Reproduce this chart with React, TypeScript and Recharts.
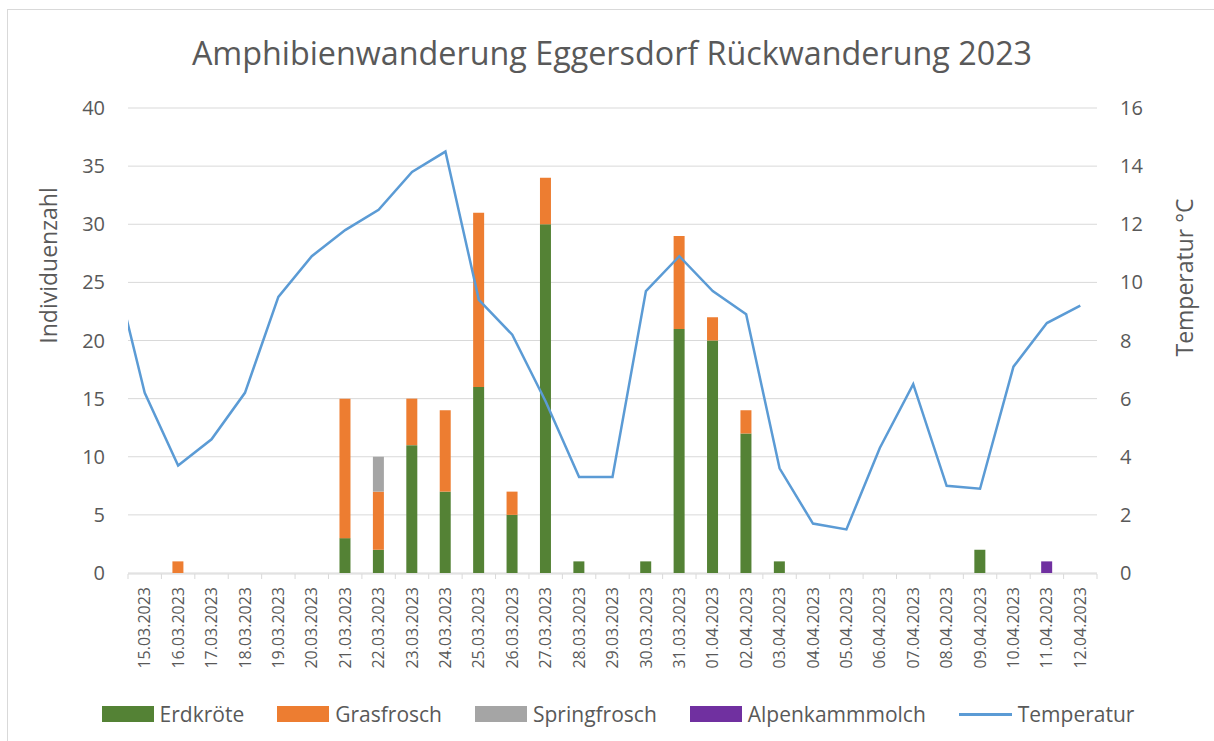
import React from 'react';
import { ComposedChart, Bar, Line, XAxis, YAxis, CartesianGrid, Legend } from 'recharts';

const dates = [
  '15.03.2023', '16.03.2023', '17.03.2023', '18.03.2023', '19.03.2023', '20.03.2023',
  '21.03.2023', '22.03.2023', '23.03.2023', '24.03.2023', '25.03.2023', '26.03.2023',
  '27.03.2023', '28.03.2023', '29.03.2023', '30.03.2023', '31.03.2023', '01.04.2023',
  '02.04.2023', '03.04.2023', '04.04.2023', '05.04.2023', '06.04.2023', '07.04.2023',
  '08.04.2023', '09.04.2023', '10.04.2023', '11.04.2023', '12.04.2023',
];

const erdkroete = [0, 0, 0, 0, 0, 0, 3, 2, 11, 7, 16, 5, 30, 1, 0, 1, 21, 20, 12, 1, 0, 0, 0, 0, 0, 2, 0, 0, 0];
const grasfrosch = [0, 1, 0, 0, 0, 0, 12, 5, 4, 7, 15, 2, 4, 0, 0, 0, 8, 2, 2, 0, 0, 0, 0, 0, 0, 0, 0, 0, 0];
const springfrosch = [0, 0, 0, 0, 0, 0, 0, 3, 0, 0, 0, 0, 0, 0, 0, 0, 0, 0, 0, 0, 0, 0, 0, 0, 0, 0, 0, 0, 0];
const alpenkammmolch = [0, 0, 0, 0, 0, 0, 0, 0, 0, 0, 0, 0, 0, 0, 0, 0, 0, 0, 0, 0, 0, 0, 0, 0, 0, 0, 0, 1, 0];

// Temperature series starts one day before the first visible category (clipped at the plot edge)
const temperatureDates = ['14.03.2023', ...dates];
const temperature = [
  10.9, 6.2, 3.7, 4.6, 6.2, 9.5, 10.9, 11.8, 12.5, 13.8, 14.5, 9.4, 8.2, 5.9, 3.3,
  3.3, 9.7, 10.9, 9.7, 8.9, 3.6, 1.7, 1.5, 4.3, 6.5, 3.0, 2.9, 7.1, 8.6, 9.2,
];

const leftTicks = [0, 5, 10, 15, 20, 25, 30, 35, 40];
const rightTicks = [0, 2, 4, 6, 8, 10, 12, 14, 16];

const seriesNames = ['Erdkröte', 'Grasfrosch', 'Springfrosch', 'Alpenkammmolch', 'Temperatur'];
const seriesColors = ['#548235', '#ED7D31', '#A5A5A5', '#7030A0', '#5B9BD5'];

const title = 'Amphibienwanderung Eggersdorf Rückwanderung 2023';
const leftTitle = 'Individuenzahl';
const rightTitle = 'Temperatur °C';

const barData = dates.map((d, i) => ({
  date: d,
  erdkroete: erdkroete[i],
  grasfrosch: grasfrosch[i],
  springfrosch: springfrosch[i],
  alpenkammmolch: alpenkammmolch[i],
}));

const lineData = temperatureDates.map((d, i) => ({ date: d, pos: i - 1, temp: temperature[i] }));
const boundaryTicks = Array.from({ length: dates.length + 1 }, (_, i) => i - 0.5);

const TEXT = '#595959';
const GRID = '#D9D9D9';

const DateTick = (props: any) => {
  const { x, y, payload } = props;
  return (
    <g transform={`translate(${x},${y})`}>
      <text x={-14} y={0} dy="0.35em" textAnchor="end" transform="rotate(-90)" fill={TEXT} fontSize={16}>
        {payload.value}
      </text>
    </g>
  );
};

const EmptyTick = () => <g />;

const LegendContent = () => (
  <div style={{ display: 'flex', justifyContent: 'center', alignItems: 'center', gap: 33, height: 30, fontSize: 21, color: TEXT, whiteSpace: 'nowrap' }}>
    {seriesNames.map((n, i) => (
      <div key={n} style={{ display: 'flex', alignItems: 'center' }}>
        {i < 4 ? (
          <div style={{ width: 52, height: 16, background: seriesColors[i] }} />
        ) : (
          <div style={{ width: 53, height: 3, background: seriesColors[i] }} />
        )}
        <span style={{ marginLeft: 6 }}>{n}</span>
      </div>
    ))}
  </div>
);

export default function App() {
  return (
    <div style={{ position: 'fixed', left: 0, top: 0, width: 1214, height: 741, overflow: 'hidden', background: '#fff', fontFamily: '"Open Sans", sans-serif' }}>
      <div style={{ position: 'absolute', left: 7, top: 9, width: 1240, height: 780, border: `1px solid ${GRID}`, boxSizing: 'border-box' }} />
      <div style={{ position: 'absolute', left: 0, top: 0 }}>
        <ComposedChart width={1214} height={741} data={barData} margin={{ top: 108, right: 57, bottom: 166, left: 68 }}>
          <CartesianGrid xAxisId="c" yAxisId="l" vertical={false} stroke={GRID} />
          <XAxis xAxisId="t" dataKey="pos" type="number" domain={[-0.5, 28.5]} allowDataOverflow ticks={boundaryTicks} interval={0} tick={<EmptyTick />} height={1} tickSize={5} stroke={GRID} />
          <XAxis xAxisId="c" dataKey="date" type="category" height={1} axisLine={false} tickLine={false} tickSize={0} tickMargin={0} interval={0} tick={<DateTick />} />
          <YAxis yAxisId="l" domain={[0, 40]} ticks={leftTicks} width={60} axisLine={false} tickLine={false} tickSize={0} tickMargin={23} tick={{ fill: TEXT, fontSize: 20 }} />
          <YAxis yAxisId="r" orientation="right" domain={[0, 16]} ticks={rightTicks} width={60} axisLine={false} tickLine={false} tickSize={0} tickMargin={23} tick={{ fill: TEXT, fontSize: 20 }} />
          <Bar xAxisId="c" yAxisId="l" dataKey="erdkroete" name={seriesNames[0]} stackId="a" fill={seriesColors[0]} barSize={11} isAnimationActive={false} />
          <Bar xAxisId="c" yAxisId="l" dataKey="grasfrosch" name={seriesNames[1]} stackId="a" fill={seriesColors[1]} barSize={11} isAnimationActive={false} />
          <Bar xAxisId="c" yAxisId="l" dataKey="springfrosch" name={seriesNames[2]} stackId="a" fill={seriesColors[2]} barSize={11} isAnimationActive={false} />
          <Bar xAxisId="c" yAxisId="l" dataKey="alpenkammmolch" name={seriesNames[3]} stackId="a" fill={seriesColors[3]} barSize={11} isAnimationActive={false} />
          <Line xAxisId="t" yAxisId="r" data={lineData} dataKey="temp" name={seriesNames[4]} stroke={seriesColors[4]} strokeWidth={2.5} dot={false} activeDot={false} isAnimationActive={false} />
          <Legend layout="horizontal" verticalAlign="middle" align="center" content={<LegendContent />} wrapperStyle={{ top: 699, left: 11, width: 1214, height: 30 }} />
        </ComposedChart>
      </div>
      <svg width={1214} height={741} style={{ position: 'absolute', left: 0, top: 0, pointerEvents: 'none' }}>
        <text x={612} y={65} textAnchor="middle" fontSize={32.3} fill={TEXT}>{title}</text>
        <text transform="translate(57,265.5) rotate(-90)" textAnchor="middle" fontSize={23} fill={TEXT}>{leftTitle}</text>
        <text transform="translate(1193,277.5) rotate(-90)" textAnchor="middle" fontSize={23} fill={TEXT}>{rightTitle}</text>
      </svg>
    </div>
  );
}
